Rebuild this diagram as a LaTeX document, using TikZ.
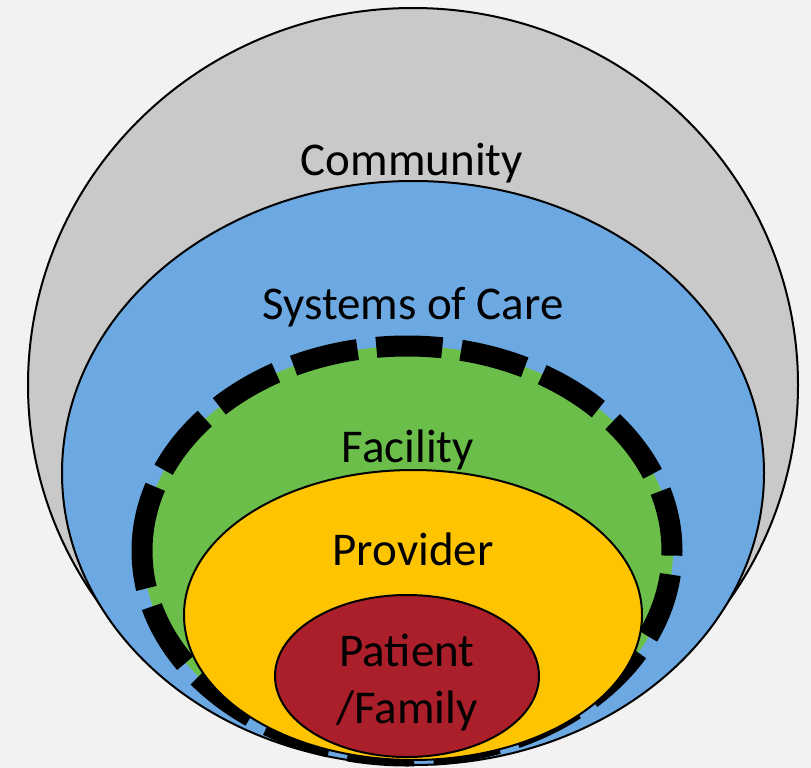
\documentclass[tikz,border=0pt]{standalone}
\usepackage{fontspec}
\setmainfont{Carlito}
\usetikzlibrary{shapes.geometric}
\definecolor{bgc}{HTML}{F2F2F2}
\definecolor{commc}{HTML}{C9C9C9}
\definecolor{sysc}{HTML}{6CA9E2}
\definecolor{facc}{HTML}{6CBE4B}
\definecolor{provc}{HTML}{FFC400}
\definecolor{patc}{HTML}{AA1F29}
\tikzset{
  ring/.style={ellipse, draw=black, line width=2pt, inner sep=0pt, minimum width=#1},
  dashring/.style={draw=black, line width=21pt, dash pattern=on 66pt off 19pt},
  lbl/.style={anchor=base, font=\fontsize{47}{57}\selectfont, text=black, inner sep=0pt},
}
\begin{document}
\begin{tikzpicture}[x=1pt,y=-1pt]
  \fill[bgc] (0,0) rectangle (811,768);
  \useasboundingbox (0,0) rectangle (811,768);
  % nested levels, outermost first
  \node[ring=770pt, minimum height=754pt, fill=commc] (community) at (413,385) {};
  \node[ring=702pt, minimum height=584pt, fill=sysc] (systems) at (413,473) {};
  \node[ring=530pt, minimum height=410pt, fill=facc, draw=none] (facility) at (408,551) {};
  % heavy dashed outline, running clockwise from the left point
  \path[dashring] (facility.west) arc[start angle=180, end angle=-180, x radius=265pt, y radius=205pt];
  \node[ring=458pt, minimum height=290pt, fill=provc] (provider) at (413,615) {};
  \node[ring=264pt, minimum height=162pt, fill=patc] (patient) at (407,676) {};
  % level names
  \node[lbl] (tcomm) at (412,175) {Community};
  \node[lbl] (tsys) at (413,319) {Systems of Care};
  \node[lbl] (tfac) at (408,462) {Facility};
  \node[lbl] (tprov) at (413,565) {Provider};
  \node[lbl] (tpat1) at (407,666) {Patient};
  \node[lbl] (tpat2) at (407,723) {/Family};
\end{tikzpicture}
\end{document}
